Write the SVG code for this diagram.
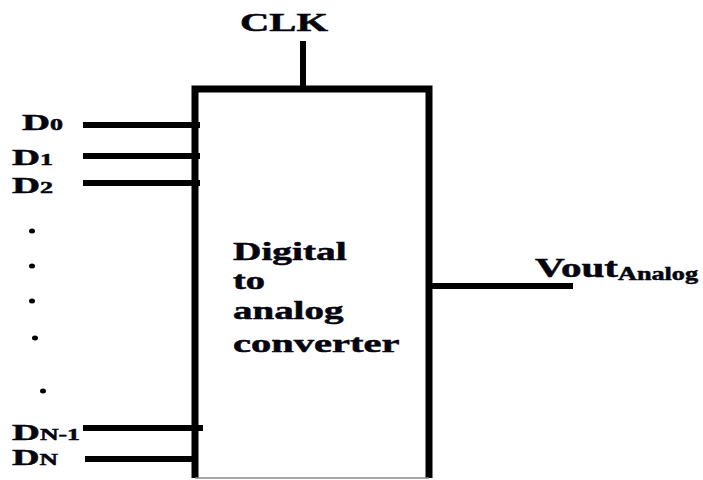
<svg xmlns="http://www.w3.org/2000/svg" width="703" height="480" viewBox="0 0 703 480">
<style>
  .t { font-family: "Liberation Serif", "Times New Roman", serif; font-weight: bold; fill: #050510; stroke: #050510; stroke-width: 0.5; }
  .w { stroke: #000; stroke-width: 6; fill: none; }
  .dot { fill: #000; }
</style>
<rect width="703" height="480" fill="#fff"/>
<g id="dac">
  <path d="M195,478 L195,89 L429,89 L429,478" stroke="#000" stroke-width="7" fill="none"/>
  <line x1="195" y1="478" x2="429" y2="478" stroke="#888" stroke-width="1.5"/>
  <text class="t" font-size="25" transform="translate(233,260) scale(1.6,1)" textLength="71" lengthAdjust="spacingAndGlyphs">Digital</text>
  <text class="t" font-size="25" transform="translate(233,289) scale(1.6,1)" textLength="20" lengthAdjust="spacingAndGlyphs">to</text>
  <text class="t" font-size="25" transform="translate(233,319) scale(1.6,1)" textLength="69" lengthAdjust="spacingAndGlyphs">analog</text>
  <text class="t" font-size="25" transform="translate(233,352) scale(1.6,1)" textLength="104" lengthAdjust="spacingAndGlyphs">converter</text>
</g>
<g id="clk">
  <text class="t" font-size="26" transform="translate(240,31) scale(1.56,1)" textLength="56.4" lengthAdjust="spacingAndGlyphs">CLK</text>
</g>
<g id="d0"><text class="t" font-size="24" transform="translate(22,130) scale(1.45,1)" textLength="28.3" lengthAdjust="spacingAndGlyphs">D<tspan font-size="16">0</tspan></text></g>
<g id="d1"><text class="t" font-size="24" transform="translate(12,165) scale(1.45,1)" textLength="28.3" lengthAdjust="spacingAndGlyphs">D<tspan font-size="16">1</tspan></text></g>
<g id="d2"><text class="t" font-size="24" transform="translate(12,193) scale(1.45,1)" textLength="28.3" lengthAdjust="spacingAndGlyphs">D<tspan font-size="16">2</tspan></text></g>
<g id="dn1"><text class="t" font-size="24" transform="translate(12,440) scale(1.45,1)" textLength="46.9" lengthAdjust="spacingAndGlyphs">D<tspan font-size="16">N-1</tspan></text></g>
<g id="dn"><text class="t" font-size="24" transform="translate(12,465) scale(1.45,1)" textLength="31.7" lengthAdjust="spacingAndGlyphs">D<tspan font-size="16">N</tspan></text></g>
<g id="vout">
  <text class="t" font-size="27" transform="translate(535,277) scale(1.46,1)" textLength="56.8" lengthAdjust="spacingAndGlyphs">Vout</text>
  <text class="t" font-size="18" transform="translate(618,280) scale(1.45,1)" textLength="55.2" lengthAdjust="spacingAndGlyphs">Analog</text>
</g>
<g id="dots">
  <ellipse class="dot" cx="32" cy="231" rx="3" ry="2.5"/>
  <ellipse class="dot" cx="32" cy="266" rx="3" ry="2.5"/>
  <ellipse class="dot" cx="32" cy="301" rx="3" ry="2.5"/>
  <ellipse class="dot" cx="35" cy="338" rx="3" ry="2.5"/>
  <ellipse class="dot" cx="43" cy="391" rx="3" ry="2.5"/>
</g>
<g id="connectors">
  <line class="w" x1="303" y1="41" x2="303" y2="89"/>
  <line class="w" x1="83" y1="125" x2="200" y2="125"/>
  <line class="w" x1="83" y1="156" x2="200" y2="156"/>
  <line class="w" x1="83" y1="183" x2="200" y2="183"/>
  <line class="w" x1="83" y1="428" x2="203" y2="428"/>
  <line class="w" x1="85" y1="459" x2="195" y2="459"/>
  <line class="w" x1="429" y1="286" x2="573" y2="286"/>
</g>
</svg>
